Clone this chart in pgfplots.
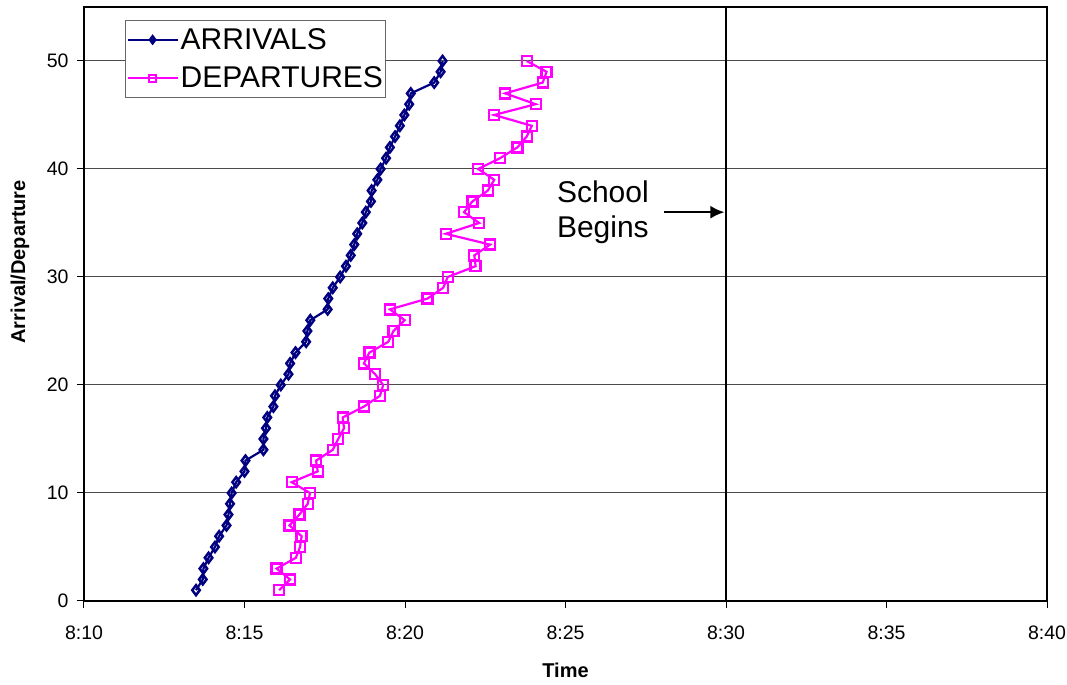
\documentclass[border=0pt]{standalone}
\usepackage{fontspec}
\setmainfont{Liberation Sans}
\usepackage{pgfplots}
\pgfplotsset{compat=1.18}
\usetikzlibrary{arrows.meta}
\definecolor{navyx}{RGB}{0,0,128}
\definecolor{magx}{RGB}{255,0,255}
\begin{document}
\begin{tikzpicture}
\begin{axis}[
  name=ax,
  scale only axis,
  width=963pt, height=594pt,
  xmin=10, xmax=40, ymin=0, ymax=55,
  xtick={10,15,20,25,30,35,40},
  xticklabels={8:10,8:15,8:20,8:25,8:30,8:35,8:40},
  ytick={0,10,20,30,40,50},
  tick align=outside,
  major tick length=7pt,
  tick style={black, line width=1pt},
  xtick pos=bottom, ytick pos=left,
  axis line style={black, line width=1.2pt},
  ymajorgrids,
  major grid style={black!70, line width=1pt},
  /pgf/number format/assume math mode=true,
  tick label style={font=\fontsize{19.5}{22}\selectfont},
  xticklabel style={yshift=-14pt},
  yticklabel style={xshift=-5pt},
  xlabel={Time},
  ylabel={Arrival/Departure},
  label style={font=\fontsize{20}{22}\selectfont\bfseries},
  xlabel style={at={(axis description cs:0.5,-0.116)}, anchor=center},
  ylabel style={at={(axis description cs:-0.0665,0.571)}, anchor=center, rotate=0},
  legend style={at={(axis description cs:0.0426,0.978)}, anchor=north west,
    draw=black!60, line width=1pt, fill=white,
    font=\fontsize{30}{32}\selectfont, inner xsep=1pt, inner ysep=6pt, row sep=12pt},
  legend cell align=left,
  legend image code/.code={%
    \draw[mark repeat=2,mark phase=2, mark size=3.5pt] plot coordinates {(0pt,0pt) (25pt,0pt) (50pt,0pt)};},
  clip=false,
]
\addplot[forget plot, black, line width=1.5pt] coordinates {(30,0) (30,55)};
\addplot[navyx, line width=2.2pt, mark=diamond, mark size=5pt, mark options={solid, fill=white, line width=2.5pt}] coordinates {
(13.49,1) (13.70,2) (13.72,3) (13.88,4) (14.08,5) (14.21,6) (14.44,7) (14.50,8) (14.55,9) (14.60,10)
(14.74,11) (15.00,12) (15.03,13) (15.59,14) (15.59,15) (15.67,16) (15.71,17) (15.90,18) (15.95,19) (16.13,20)
(16.37,21) (16.42,22) (16.59,23) (16.92,24) (16.96,25) (17.05,26) (17.59,27) (17.61,28) (17.75,29) (17.98,30)
(18.16,31) (18.31,32) (18.42,33) (18.51,34) (18.67,35) (18.78,36) (18.94,37) (18.96,38) (19.14,39) (19.24,40)
(19.41,41) (19.53,42) (19.69,43) (19.84,44) (19.98,45) (20.13,46) (20.18,47) (20.91,48) (21.11,49) (21.17,50)
};
\addlegendentry{ARRIVALS}
\addplot[magx, line width=2.2pt, mark=square, mark size=5pt, mark options={solid, fill=white, line width=2.3pt}] coordinates {
(16.08,1) (16.42,2) (16.00,3) (16.60,4) (16.73,5) (16.78,6) (16.40,7) (16.71,8) (16.97,9) (17.04,10)
(16.47,11) (17.28,12) (17.23,13) (17.75,14) (17.92,15) (18.10,16) (18.06,17) (18.72,18) (19.22,19) (19.32,20)
(19.07,21) (18.72,22) (18.89,23) (19.48,24) (19.64,25) (19.99,26) (19.53,27) (20.70,28) (21.19,29) (21.33,30)
(22.20,31) (22.16,32) (22.65,33) (21.27,34) (22.31,35) (21.84,36) (22.10,37) (22.58,38) (22.78,39) (22.28,40)
(22.96,41) (23.50,42) (23.79,43) (23.95,44) (22.78,45) (24.07,46) (23.12,47) (24.29,48) (24.41,49) (23.79,50)
};
\addlegendentry{DEPARTURES}
\node[anchor=west, align=left, font=\fontsize{30}{35}\selectfont, inner sep=0pt] at (axis cs:24.73,36.0) {School\\Begins};
\draw[-{Latex[length=14pt,width=13pt]}, line width=2pt] (axis cs:28.08,36) -- (axis cs:29.95,36);
\end{axis}
\pgfresetboundingbox
\path ([shift={(-84pt,-84pt)}]ax.south west) rectangle ([shift={(20pt,7pt)}]ax.north east);
\end{tikzpicture}
\end{document}
